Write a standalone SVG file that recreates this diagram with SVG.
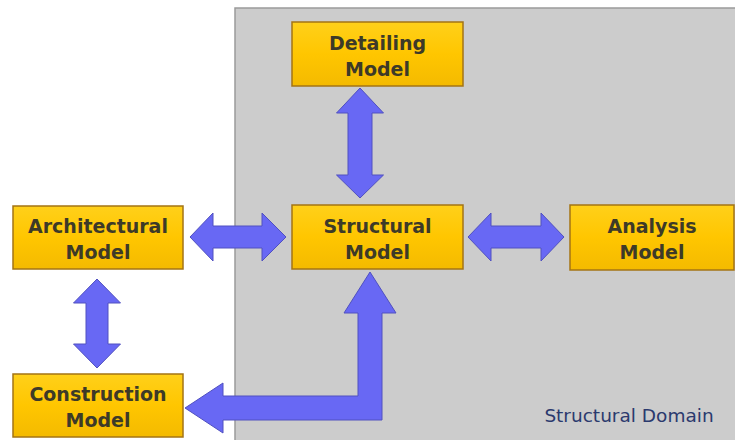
<svg xmlns="http://www.w3.org/2000/svg" width="735" height="440" viewBox="0 0 735 440">
<defs>
<linearGradient id="gold" x1="0" y1="0" x2="0" y2="1">
<stop offset="0" stop-color="#FFD01A"/>
<stop offset="0.5" stop-color="#FFC600"/>
<stop offset="1" stop-color="#F4BA00"/>
</linearGradient>
</defs>
<style>
.box{fill:url(#gold);stroke:#A47414;stroke-width:1.5}
.lbl{font-family:"DejaVu Sans",Verdana,sans-serif;font-weight:bold;font-size:19px;fill:#3d3a28;text-anchor:middle}
.arr{fill:#6868F4;stroke:#5050C0;stroke-width:1}
</style>
<rect x="0" y="0" width="735" height="440" fill="#ffffff"/>
<rect id="domain" x="235" y="8" width="510" height="440" fill="#CCCCCC" stroke="#9a9a9a" stroke-width="1.5"/>
<text x="629" y="422" font-family="DejaVu Sans,Verdana,sans-serif" font-size="18.5" fill="#2B3A6E" text-anchor="middle">Structural Domain</text>
<g id="connectors">
<path class="arr" d="M360,88 L383.5,113 L372,113 L372,175 L383.5,175 L360,198 L336.5,175 L348,175 L348,113 L336.5,113 Z"/>
<path class="arr" d="M190,237 L213,213 L213,226 L262,226 L262,213 L286,237 L262,261 L262,248 L213,248 L213,261 Z"/>
<path class="arr" d="M468,237 L491,213 L491,226 L541,226 L541,213 L564,237 L541,261 L541,248 L491,248 L491,261 Z"/>
<path class="arr" d="M97,279 L120.5,303 L108,303 L108,344 L120.5,344 L97,368 L73.5,344 L86,344 L86,303 L73.5,303 Z"/>
<path class="arr" d="M185,408 L223,383 L223,396 L358,396 L358,313 L344,313 L370,272 L396,313 L382,313 L382,420 L223,420 L223,433 Z"/>
</g>
<g id="detailing">
<rect class="box" x="292" y="22" width="171" height="64"/>
<text class="lbl" x="377.5" y="50">Detailing</text>
<text class="lbl" x="377.5" y="76">Model</text>
</g>
<g id="structural">
<rect class="box" x="292" y="205" width="171" height="64"/>
<text class="lbl" x="377.5" y="233">Structural</text>
<text class="lbl" x="377.5" y="259">Model</text>
</g>
<g id="analysis">
<rect class="box" x="570" y="205" width="164" height="65"/>
<text class="lbl" x="652" y="233">Analysis</text>
<text class="lbl" x="652" y="259">Model</text>
</g>
<g id="architectural">
<rect class="box" x="13" y="206" width="170" height="63"/>
<text class="lbl" x="98" y="233">Architectural</text>
<text class="lbl" x="98" y="259">Model</text>
</g>
<g id="construction">
<rect class="box" x="13" y="374" width="170" height="63"/>
<text class="lbl" x="98" y="401">Construction</text>
<text class="lbl" x="98" y="427">Model</text>
</g>
</svg>
